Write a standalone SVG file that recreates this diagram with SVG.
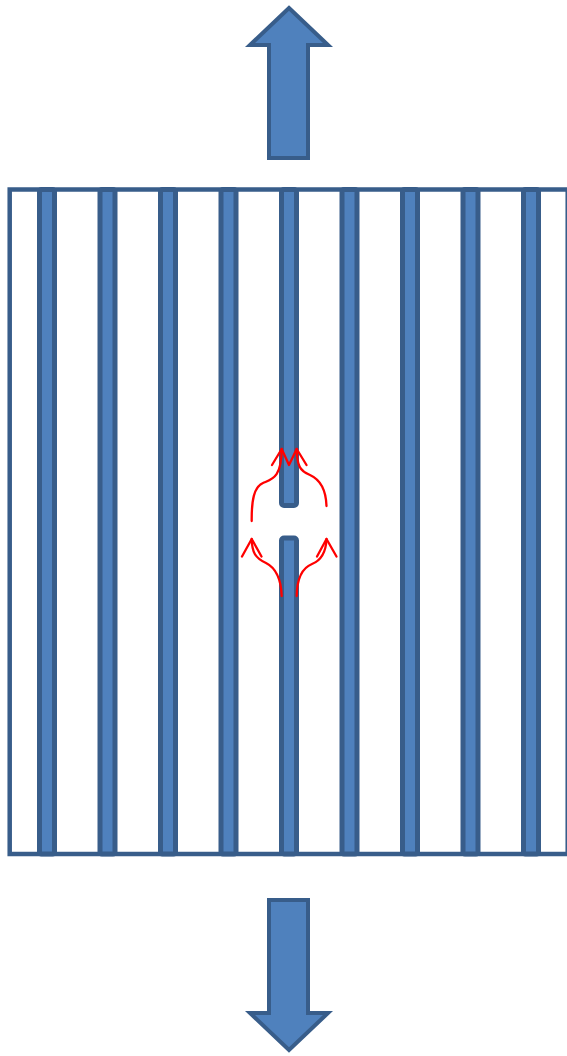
<svg xmlns="http://www.w3.org/2000/svg" width="567" height="1056" viewBox="0 0 567 1056">
<style>
.blue{fill:#4f81bd;stroke:#385d8a;stroke-width:4;stroke-linejoin:miter}
.fin{fill:#4f81bd;stroke:#385d8a;stroke-width:5}
.frame{fill:#fff;stroke:#385d8a;stroke-width:4.5}
.red{fill:none;stroke:#ff0000;stroke-width:2.3;stroke-linecap:round;stroke-linejoin:round}
</style>
<rect width="567" height="1056" fill="#fff"/>
<g id="arrow-up"><path class="blue" d="M289,8 L328,45 L308,45 L308,158 L269,158 L269,45 L250,45 Z"/></g>
<g id="frame"><rect class="frame" x="9.7" y="189.5" width="558" height="664.5"/></g>
<g id="fins">
<rect class="fin" x="39.5" y="189.5" width="15" height="664.5" rx="2"/>
<rect class="fin" x="100" y="189.5" width="15" height="664.5" rx="2"/>
<rect class="fin" x="160.5" y="189.5" width="15" height="664.5" rx="2"/>
<rect class="fin" x="221" y="189.5" width="15" height="664.5" rx="2"/>
<rect class="fin" x="281.5" y="189.5" width="15" height="316" rx="2.5"/>
<rect class="fin" x="281.5" y="538" width="15" height="316" rx="2.5"/>
<rect class="fin" x="342" y="189.5" width="15" height="664.5" rx="2"/>
<rect class="fin" x="402.5" y="189.5" width="15" height="664.5" rx="2"/>
<rect class="fin" x="463" y="189.5" width="15" height="664.5" rx="2"/>
<rect class="fin" x="523.5" y="189.5" width="15" height="664.5" rx="2"/>
</g>
<g id="flow">
<path class="red" d="M251.7,521 C251.5,500 254,487 263,483 C272,479 281.5,478 281.7,449"/>
<path class="red" d="M272,465 L281.7,449 L289,465 L296.7,449 L306.5,465"/>
<path class="red" d="M326.5,506 C326,490 321,480 310,475 C300,471 297,466 296.7,449"/>
<path class="red" d="M281.7,596 C281,578 276,568 266,563 C255,558 252,552 251.7,539"/>
<path class="red" d="M242,556.5 L251.7,539 L261.5,556.5"/>
<path class="red" d="M296.7,596 C297,578 302,568 312,564 C322,560 326,552 326.5,539"/>
<path class="red" d="M317,556.5 L326.5,539 L336.5,556.5"/>
</g>
<g id="arrow-down"><path class="blue" d="M269,900 L308,900 L308,1013 L328,1013 L289,1050 L250,1013 L269,1013 Z"/></g>
</svg>
